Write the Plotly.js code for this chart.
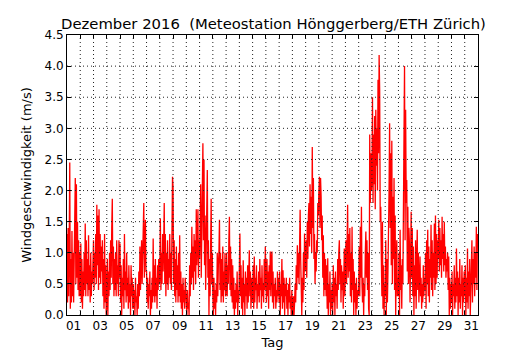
<!DOCTYPE html>
<html>
<head>
<meta charset="utf-8">
<script src="https://cdn.plot.ly/plotly-3.0.1.min.js"></script>
<style>html,body{margin:0;padding:0;background:#fff;}#chart{width:530px;height:350px;}</style>
</head>
<body>
<div id="chart"></div>
<script>
// Hourly wind speed (m/s), Dezember 2016
const dec01 = [1.3,0.2,1.4,0.3,1.1,2.45,0.1,0.9,0.2,1.35,0.3,1.0,0.2,0.8,1.1,2.2,0.5,2.1,0.6,1.5,0.4,1.2,0.3,1.0];
const dec02 = [0.3,1.15,0.2,0.9,0.1,0.7,0.3,1.0,0.4,1.47,0.3,1.2,0.5,0.9,0.3,1.28,0.4,0.8,0.2,1.0,0.3,0.7,0.5,1.2];
const dec03 = [1.2,0.4,1.0,0.6,1.3,0.5,1.77,0.8,1.6,0.4,1.7,0.6,1.3,0.5,1.1,0.7,1.2,0.3,0.9,0.1,1.3,0.2,0.8,0.0];
const dec04 = [0.2,0.9,0.0,0.7,0.3,1.0,0.4,1.2,0.6,1.4,1.87,0.5,1.1,0.3,0.9,0.4,1.0,0.3,1.2,0.5,0.8,0.3,1.2,0.6];
const dec05 = [1.15,0.2,0.8,0.0,0.6,0.3,0.9,0.1,1.3,0.4,0.7,0.2,1.0,0.3,0.6,0.1,0.8,0.2,0.5,0.0,0.8,0.3,0.6,0.1];
const dec06 = [0.5,0.1,0.4,0.0,0.6,0.2,0.3,0.0,0.5,0.1,0.7,0.3,1.1,0.4,0.8,1.2,0.5,1.0,1.5,1.8,0.6,1.2,1.53,0.7];
const dec07 = [0.7,0.2,0.6,0.1,0.5,0.3,0.7,0.0,0.4,0.1,0.6,0.2,1.23,0.3,0.8,0.2,0.9,0.3,0.6,0.1,0.8,0.4,0.9,0.5];
const dec08 = [0.6,1.55,0.4,1.0,0.5,1.3,0.7,1.1,1.8,0.5,1.3,0.3,1.0,0.5,1.2,0.4,0.9,0.6,1.3,0.5,1.0,0.4,1.6,2.22];
const dec09 = [2.06,0.5,1.2,0.3,0.9,0.2,1.1,0.4,0.8,0.2,1.0,0.3,1.28,0.2,0.7,0.1,0.5,0.0,0.6,0.2,0.4,0.1,0.6,0.3];
const dec10 = [0.3,0.0,0.4,0.1,0.2,0.0,0.8,0.3,1.0,0.5,1.42,0.6,1.1,0.4,1.3,0.7,1.2,0.5,1.7,0.8,1.4,1.7,0.6,1.2];
const dec11 = [0.9,1.9,2.1,0.6,1.5,2.0,2.76,1.2,2.5,0.8,1.6,0.4,1.3,1.9,2.33,0.6,1.2,0.0,0.9,0.3,1.5,1.87,0.5,1.0];
const dec12 = [0.3,0.0,0.6,0.1,0.4,0.0,0.5,0.2,1.0,0.3,0.8,1.0,1.53,0.4,1.0,0.2,0.9,0.3,1.1,0.2,0.7,0.4,1.0,0.3];
const dec13 = [0.4,1.0,0.3,0.8,0.5,1.2,1.58,0.4,1.1,0.3,0.9,0.2,0.8,0.1,0.6,0.0,0.4,0.1,0.5,0.2,0.7,0.0,0.4,0.2];
const dec14 = [0.6,1.31,0.3,0.8,0.1,0.6,0.0,0.88,0.2,0.5,0.0,0.7,0.3,0.6,0.1,0.8,0.2,0.5,1.04,0.3,0.7,0.1,0.6,0.2];
const dec15 = [0.3,0.8,0.1,0.94,0.2,0.6,0.4,0.8,0.1,0.5,0.3,0.7,0.2,0.9,0.4,0.6,0.1,0.8,0.3,0.5,0.2,0.9,0.4,1.1];
const dec16 = [0.5,0.2,0.9,0.3,0.7,0.1,0.8,0.4,1.02,0.3,0.9,1.02,0.2,0.7,0.1,0.5,0.3,0.6,0.1,0.4,0.2,0.7,0.3,0.6];
const dec17 = [0.2,0.7,0.0,0.5,0.3,0.9,0.1,0.72,0.2,0.6,0.0,0.5,0.3,0.6,0.1,0.4,0.0,0.5,0.2,0.6,0.1,0.3,0.0,0.4];
const dec18 = [0.1,0.0,0.3,0.0,0.2,0.5,0.2,0.8,0.4,1.12,0.6,1.0,0.5,1.2,1.69,0.9,0.3,0.0,0.6,0.2,1.0,0.4,1.31,0.7];
const dec19 = [0.8,1.2,0.6,1.5,0.9,1.6,1.8,1.1,2.1,1.3,1.9,1.0,2.7,1.4,2.2,0.9,1.3,0.5,1.0,0.7,1.2,1.0,1.8,1.6];
const dec20 = [2.0,2.22,1.4,2.2,1.9,1.2,1.6,0.6,1.28,0.3,1.0,0.4,0.9,0.3,0.8,0.1,0.91,0.0,0.5,0.2,0.7,0.0,0.4,0.1];
const dec21 = [0.5,0.0,0.8,0.2,0.6,0.0,0.7,0.3,0.5,0.1,0.9,0.4,1.0,1.2,0.5,0.9,0.2,0.8,0.4,0.7,0.1,0.9,1.07,0.3];
const dec22 = [0.8,1.2,0.5,1.5,1.77,0.6,1.3,0.7,1.4,0.3,1.0,0.2,1.42,0.4,0.9,0.0,0.7,0.2,0.5,0.0,0.6,0.1,0.4,0.3];
const dec23 = [0.4,1.1,0.3,1.42,0.6,1.74,0.5,0.2,0.6,0.0,0.5,0.3,1.0,1.34,0.6,1.2,0.4,1.0,0.1,0.0,2.9,1.8,2.6,2.0];
const dec24 = [2.2,3.5,1.8,2.9,2.1,3.2,1.7,3.3,2.4,3.0,2.0,3.78,2.6,4.18,3.6,1.5,1.74,0.9,0.3,1.5,0.1,0.8,0.0,0.5];
const dec25 = [0.3,1.2,0.0,0.9,0.2,0.7,1.1,2.0,3.08,1.4,2.6,0.8,2.8,0.5,1.9,0.9,2.2,0.4,1.6,0.0,0.8,1.2,0.3,0.6];
const dec26 = [0.3,1.0,0.0,1.37,0.4,0.8,0.1,0.9,0.5,1.5,2.5,4.0,1.2,3.3,1.8,2.17,0.7,1.74,0.5,1.4,1.1,0.2,1.1,1.66];
const dec27 = [0.6,1.4,0.3,1.1,0.0,0.8,0.3,1.2,0.1,0.9,1.37,0.4,1.0,0.2,0.7,0.94,0.3,0.6,0.1,0.5,0.2,0.8,0.3,0.6];
const dec28 = [0.4,1.0,0.1,1.2,0.5,1.37,0.3,1.1,0.2,0.9,0.6,1.45,0.4,1.2,0.3,1.0,0.6,1.47,0.4,1.6,0.5,1.3,0.6,1.2];
const dec29 = [0.9,1.53,0.7,1.4,0.8,1.2,0.6,1.58,0.9,1.3,0.7,1.5,0.8,1.1,0.6,0.9,0.7,1.0,0.4,0.94,0.0,0.6,0.1,0.5];
const dec30 = [0.2,0.7,0.0,0.5,0.3,0.8,0.1,0.6,0.2,1.07,0.3,0.7,0.0,0.6,0.2,0.9,0.1,0.5,0.3,0.8,0.0,0.6,0.2,0.7];
const dec31 = [0.3,0.8,0.0,0.6,0.2,1.07,0.1,0.7,0.3,0.9,0.0,0.6,0.4,1.2,0.2,0.9,0.5,1.1,0.3,1.0,0.6,1.42,0.4,1.3];

const days = [dec01,dec02,dec03,dec04,dec05,dec06,dec07,dec08,dec09,dec10,dec11,dec12,dec13,dec14,dec15,dec16,
              dec17,dec18,dec19,dec20,dec21,dec22,dec23,dec24,dec25,dec26,dec27,dec28,dec29,dec30,dec31];
const dayLabels = ['01','03','05','07','09','11','13','15','17','19','21','23','25','27','29','31'];
const yTicks = [0,0.5,1,1.5,2,2.5,3,3.5,4,4.5];

const xs = [], ys = [];
days.forEach((arr, d) => arr.forEach((v, h) => { xs.push(d + h / arr.length); ys.push(v); }));

const labelPos = dayLabels.map(s => parseInt(s, 10) - 0.5);

const font = 'DejaVu Sans, sans-serif';
const gridStyle = {color: '#222', width: 1, dash: '1px,3px'};
const shapes = [];
for (let d = 1; d < days.length; d++) {
  shapes.push({type: 'line', layer: 'above', xref: 'x', yref: 'paper', x0: d, x1: d, y0: 0, y1: 1, line: gridStyle});
}
yTicks.slice(1, -1).forEach(v => {
  shapes.push({type: 'line', layer: 'above', xref: 'paper', yref: 'y', x0: 0, x1: 1, y0: v, y1: v, line: gridStyle});
});

const traces = [
  {x: xs, y: ys, type: 'scatter', mode: 'lines', line: {color: '#ff0000', width: 1.3}, hoverinfo: 'skip', showlegend: false},
  {x: [], y: [], type: 'scatter', mode: 'lines', xaxis: 'x2', yaxis: 'y', showlegend: false, hoverinfo: 'skip'}
];

const layout = {
  width: 530, height: 350,
  margin: {l: 67, r: 52, t: 35, b: 35, pad: 0},
  paper_bgcolor: '#fff', plot_bgcolor: '#fff',
  font: {family: font, size: 12, color: '#000'},
  showlegend: false,
  title: {text: 'Dezember 2016 \u00a0(Meteostation Hönggerberg/ETH Zürich)', font: {family: font, size: 14.8, color: '#000'},
          x: 0.516, xanchor: 'center', xref: 'container', y: 1 - 23.5 / 350, yanchor: 'middle', yref: 'container'},
  xaxis: {
    range: [0, days.length], tickmode: 'linear', tick0: 0, dtick: 1,
    ticks: 'inside', ticklen: 4, tickwidth: 1, tickcolor: '#000',
    showticklabels: false, showgrid: false, zeroline: false,
    showline: true, linecolor: '#000', linewidth: 1, mirror: 'ticks', layer: 'above traces'
  },
  xaxis2: {
    overlaying: 'x', side: 'bottom', range: [0, days.length],
    tickmode: 'array', tickvals: labelPos, ticktext: dayLabels, ticks: '',
    showgrid: false, zeroline: false, showline: false, ticklabelstandoff: 2,
    tickfont: {family: font, size: 12, color: '#000'},
    title: {text: 'Tag', font: {family: font, size: 13, color: '#000'}, standoff: 5}
  },
  yaxis: {
    range: [0, 4.5], tickmode: 'array', tickvals: yTicks, tickformat: '.1f',
    ticks: 'inside', ticklen: 4, tickwidth: 1, tickcolor: '#000',
    showgrid: false, zeroline: false,
    showline: true, linecolor: '#000', linewidth: 1, mirror: 'ticks', layer: 'above traces',
    tickfont: {family: font, size: 12, color: '#000'},
    title: {text: 'Windgeschwindigkeit (m/s)', font: {family: font, size: 13, color: '#000'}, standoff: 9}
  },
  shapes: shapes
};

Plotly.newPlot('chart', traces, layout, {staticPlot: true, displayModeBar: false});
</script>
</body>
</html>
